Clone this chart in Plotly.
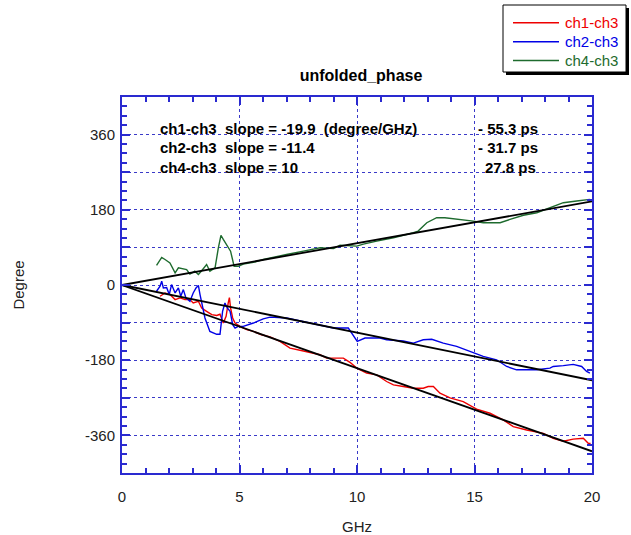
import plotly.graph_objects as go

# ---- data ----
ch1_x = [1.62, 1.83, 2.04, 2.26, 2.47, 2.68, 2.89, 3.03, 3.25, 3.39, 3.6, 3.82, 4.03, 4.17, 4.31, 4.43, 4.52, 4.57, 4.62, 4.71, 4.81, 5.02, 5.31, 5.59, 5.94, 6.3,
         6.72, 7.15, 7.72, 8.43, 8.71, 9.14, 9.42, 9.7, 9.99, 10.41, 10.84, 11.26, 11.55, 11.97, 12.4, 12.82, 13.03, 13.25, 13.53, 13.96, 14.52, 15.09, 15.66,
         16.22, 16.65, 17.22, 17.93, 18.35, 18.78, 19.2, 19.63, 19.84, 19.94]
ch1_y = [-27, -19, -23, -35, -31, -35, -35, -43, -39, -55, -63, -71, -73, -70, -91, -75, -43, -30, -55, -79, -91, -99, -107, -111, -119, -124,
         -135, -151, -158, -167, -175, -175, -175, -185, -199, -211, -215, -231, -239, -243, -247, -247, -243, -243, -259, -270, -279, -297, -307,
         -323, -339, -347, -355, -367, -374, -369, -367, -379, -379]

ch2_x = [1.47, 1.62, 1.69, 1.76, 1.9, 2.01, 2.11, 2.26, 2.4, 2.5, 2.61, 2.72, 2.89, 3.03, 3.15, 3.25, 3.32, 3.53, 3.74, 4.03, 4.17, 4.28, 4.38, 4.48, 4.6, 4.71, 4.81,
         4.95, 5.16, 5.59, 6.01, 6.3, 7.0, 7.72, 8.43, 9.0, 9.63, 9.84, 10.01, 10.34, 10.98, 11.26, 11.97, 12.4, 12.82, 13.18, 13.67, 14.24, 14.81, 15.37,
         15.94, 16.37, 16.79, 17.65, 18.21, 18.35, 18.78, 19.2, 19.56, 19.77, 19.91]
ch2_y = [-15, -3, 9, -7, -6, -23, 1, -19, -7, -27, -11, -31, -39, -19, -7, -1, -23, -79, -111, -118, -118, -63, -43, -55, -63, -95, -103,
         -99, -99, -91, -81, -77, -79, -87, -95, -103, -103, -119, -135, -127, -127, -131, -134, -139, -131, -130, -139, -147, -159, -171,
         -179, -195, -203, -203, -199, -195, -193, -190, -195, -207, -211]

ch4_x = [1.47, 1.69, 1.83, 2.04, 2.26, 2.4, 2.75, 2.89, 3.1, 3.25, 3.39, 3.6, 3.74, 3.96, 4.1, 4.21, 4.31, 4.52, 4.62, 4.77, 4.95, 5.16, 5.59, 6.01, 6.3,
         7.0, 7.72, 8.43, 9.0, 9.28, 9.99, 10.27, 10.84, 11.55, 12.4, 12.6, 12.97, 13.39, 13.74, 14.38, 14.95, 15.37, 16.09, 16.51, 17.08, 17.65,
         18.21, 18.78, 19.35, 19.91]
ch4_y = [47, 66, 61, 53, 29, 41, 37, 26, 33, 25, 34, 49, 33, 41, 89, 119, 109, 89, 81, 45, 45, 50, 54, 61, 65,
         73, 81, 89, 87, 95, 93, 98, 105, 113, 125, 129, 149, 161, 161, 157, 153, 149, 149, 157, 167, 173,
         185, 197, 201, 205]

series_names = ["ch1-ch3", "ch2-ch3", "ch4-ch3"]
slopes = [-19.9, -11.4, 10]          # degree/GHz
delays = ["- 55.3 ps", "- 31.7 ps", "27.8 ps"]
fit_x = [0, 20]

y_tickvals = [-450, -360, -270, -180, -90, 0, 90, 180, 270, 360, 450]
y_ticktext = ["", "-360", "", "-180", "", "0", "", "180", "", "360", ""]
x_tickvals = [0, 5, 10, 15, 20]

# ---- figure ----
colors = ["#ee0000", "#0000e6", "#1e6b2e"]
axis_blue = "#2a2ad0"
grid_blue = "#3a3ac8"
FONT = "Liberation Sans, Arial"

fig = go.Figure()
for name, xs, ys, c in zip(series_names, [ch1_x, ch2_x, ch4_x], [ch1_y, ch2_y, ch4_y], colors):
    fig.add_trace(go.Scatter(x=xs, y=ys, mode="lines", name=name,
                             line=dict(color=c, width=1.4), showlegend=False))
for s in slopes:
    fig.add_trace(go.Scatter(x=fit_x, y=[s * v for v in fit_x], mode="lines",
                             line=dict(color="black", width=1.8), showlegend=False,
                             hoverinfo="skip"))

W, H = 631, 535
L, R, T, B = 122, 39, 97, 62
pw, ph = W - L - R, H - T - B


def px(x):
    return (x - L) / pw


def py(y):
    return (H - B - y) / ph


axis_common = dict(showline=True, linecolor=axis_blue, linewidth=2, mirror="ticks",
                   ticks="inside", tickcolor=axis_blue, tickwidth=1.5, ticklen=8,
                   showgrid=True, gridcolor=grid_blue, griddash="dot", gridwidth=1,
                   zeroline=False, automargin=False,
                   tickfont=dict(family=FONT, size=15, color="#222"))

fig.update_xaxes(range=[0, 20], tickmode="array", tickvals=x_tickvals, ticklabelstandoff=9,
                 minor=dict(dtick=1, tick0=0, ticks="inside", ticklen=5, tickcolor=axis_blue, tickwidth=1.5, showgrid=False),
                 title=dict(text="GHz", font=dict(family=FONT, size=15, color="#222"), standoff=18),
                 **axis_common)
fig.update_yaxes(range=[-450, 450], tickmode="array", tickvals=y_tickvals, ticktext=y_ticktext, ticklabelstandoff=2,
                 minor=dict(dtick=22.5, tick0=0, ticks="inside", ticklen=5, tickcolor=axis_blue, tickwidth=1.5, showgrid=False),
                 title=dict(text="Degree", font=dict(family=FONT, size=15, color="#222"), standoff=57),
                 **axis_common)

# annotation text block
ann_font = dict(family=FONT, size=15, color="black")
row_y = [128, 147, 167]
left_texts = [f"{n}\u00a0\u00a0slope = {s:g}" for n, s in zip(series_names, slopes)]
left_texts[0] += "\u00a0\u00a0(degree/GHz)"
annotations = []
for i in range(3):
    annotations.append(dict(x=px(158), y=py(row_y[i]), xref="paper", yref="paper", xanchor="left", yanchor="middle",
                            text=f"<b>{left_texts[i]}</b>", showarrow=False, font=ann_font))
    xr = 476 if delays[i].startswith("-") else 483
    annotations.append(dict(x=px(xr), y=py(row_y[i]), xref="paper", yref="paper", xanchor="left", yanchor="middle",
                            text=f"<b>{delays[i]}</b>", showarrow=False, font=ann_font))

# manual legend (box with shadow, coloured samples and labels)
shapes = [
    dict(type="rect", xref="paper", yref="paper", x0=px(506), x1=px(629), y0=py(75), y1=py(8),
         fillcolor="black", line=dict(width=0)),
    dict(type="rect", xref="paper", yref="paper", x0=px(503), x1=px(626), y0=py(72), y1=py(5),
         fillcolor="white", line=dict(color="black", width=1)),
]
leg_y = [22.7, 41.7, 60.5]
for name, c, yy in zip(series_names, colors, leg_y):
    shapes.append(dict(type="line", xref="paper", yref="paper", x0=px(513), x1=px(559), y0=py(yy), y1=py(yy),
                       line=dict(color=c, width=1.5)))
    annotations.append(dict(x=px(563), y=py(yy), xref="paper", yref="paper", xanchor="left", yanchor="middle",
                            text=name, showarrow=False, font=dict(family=FONT, size=15, color=c)))

fig.update_layout(
    width=W, height=H, margin=dict(l=L, r=R, t=T, b=B),
    paper_bgcolor="white", plot_bgcolor="white",
    title=dict(text="<b>unfolded_phase</b>", xref="container", x=361 / W, xanchor="center",
               y=1 - 75 / H, yanchor="middle",
               font=dict(family=FONT, size=16, color="black")),
    showlegend=False,
    annotations=annotations, shapes=shapes,
)

fig.write_html("out.html", config={"displayModeBar": False},
               post_script="document.body.style.margin='0';")
